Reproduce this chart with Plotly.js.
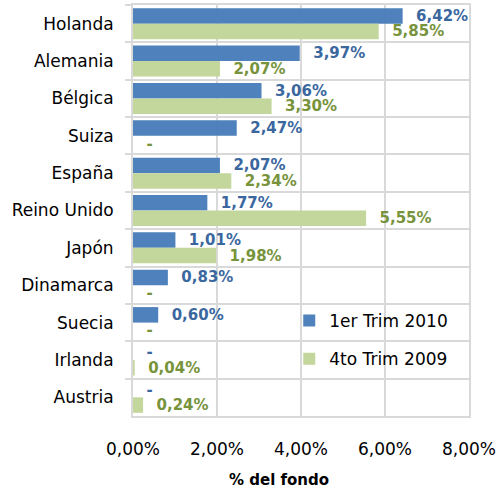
<!DOCTYPE html>
<html>
<head>
<meta charset="utf-8">
<script src="https://cdn.plot.ly/plotly-3.0.1.min.js"></script>
<style>html,body{margin:0;padding:0;background:#fff;}#chart{width:496px;height:491px;}</style>
</head>
<body>
<div id="chart"></div>
<script>
const categories = ["Holanda","Alemania","Bélgica","Suiza","España","Reino Unido","Japón","Dinamarca","Suecia","Irlanda","Austria"];
const seriesNames = ["1er Trim 2010","4to Trim 2009"];
const trim1_2010 = [6.42,3.97,3.06,2.47,2.07,1.77,1.01,0.83,0.60,null,null];
const trim4_2009 = [5.85,2.07,3.30,null,2.34,5.55,1.98,null,null,0.04,0.24];
const xTicks = [0,2,4,6,8];
const xTickLabels = ["0,00%","2,00%","4,00%","6,00%","8,00%"];
const xTitle = "% del fondo";

function fmt(v){ return v === null ? "\u00a0\u00a0-" : "\u00a0\u00a0" + v.toFixed(2).replace(".", ",") + "%"; }

const font = "DejaVu Sans, Verdana, sans-serif";
function mk(vals, name, color, txtColor){
  return {
    type: "bar", orientation: "h", name: name,
    y: categories, x: vals.map(v => v === null ? 0 : v),
    text: vals.map(fmt), textposition: "outside", cliponaxis: false,
    constraintext: "none",
    outsidetextfont: {family: font, size: 15, color: txtColor, weight: "bold"},
    textfont: {family: font, size: 15, color: txtColor, weight: "bold"},
    marker: {color: color, line: {width: 0}},
    hoverinfo: "skip", legendgroup: name
  };
}
const data = [
  mk(trim1_2010, seriesNames[0], "#4F81BD", "#3B679F"),
  mk(trim4_2009, seriesNames[1], "#C3D69B", "#77933C")
];
const layout = {
  width: 496, height: 491,
  margin: {l: 133, r: 27, t: 5, b: 75},
  paper_bgcolor: "#fff", plot_bgcolor: "#fff",
  separators: ",.",
  barmode: "group", bargap: 0.17, bargroupgap: 0,
  font: {family: font, size: 17, color: "#000"},
  showlegend: true,
  legend: {x: 0.465, xanchor: "left", y: 0.275, yanchor: "top", bgcolor: "rgba(0,0,0,0)",
           font: {family: font, size: 17, color: "#000"}, tracegroupgap: 13, traceorder: "grouped"},
  xaxis: {range: [0, 8], tickmode: "array", tickvals: xTicks, ticktext: xTickLabels,
          ticklabeloverflow: "allow",
          showgrid: true, gridcolor: "#d9d9d9", gridwidth: 2, zeroline: false,
          showline: true, mirror: true, linecolor: "#d9d9d9", linewidth: 2,
          ticks: "", ticklabelstandoff: 17, tickfont: {family: font, size: 17, color: "#000"}, fixedrange: true},
  yaxis: {type: "category", categoryorder: "array", categoryarray: categories, autorange: "reversed",
          tickson: "boundaries", ticks: "outside", ticklen: 6, tickwidth: 2, tickcolor: "#d9d9d9",
          showgrid: true, gridcolor: "#d9d9d9", gridwidth: 2, zeroline: false,
          showline: true, mirror: true, linecolor: "#d9d9d9", linewidth: 2,
          ticklabelstandoff: 14, tickfont: {family: font, size: 17, color: "#000"}, fixedrange: true},
  annotations: [{text: "<b>" + xTitle + "</b>", xref: "paper", yref: "paper", x: 0.435, y: -0.156,
                 xanchor: "center", yanchor: "middle", showarrow: false,
                 font: {family: font, size: 15, color: "#000"}}]
};
Plotly.newPlot("chart", data, layout, {displayModeBar: false, staticPlot: true});
</script>
</body>
</html>
